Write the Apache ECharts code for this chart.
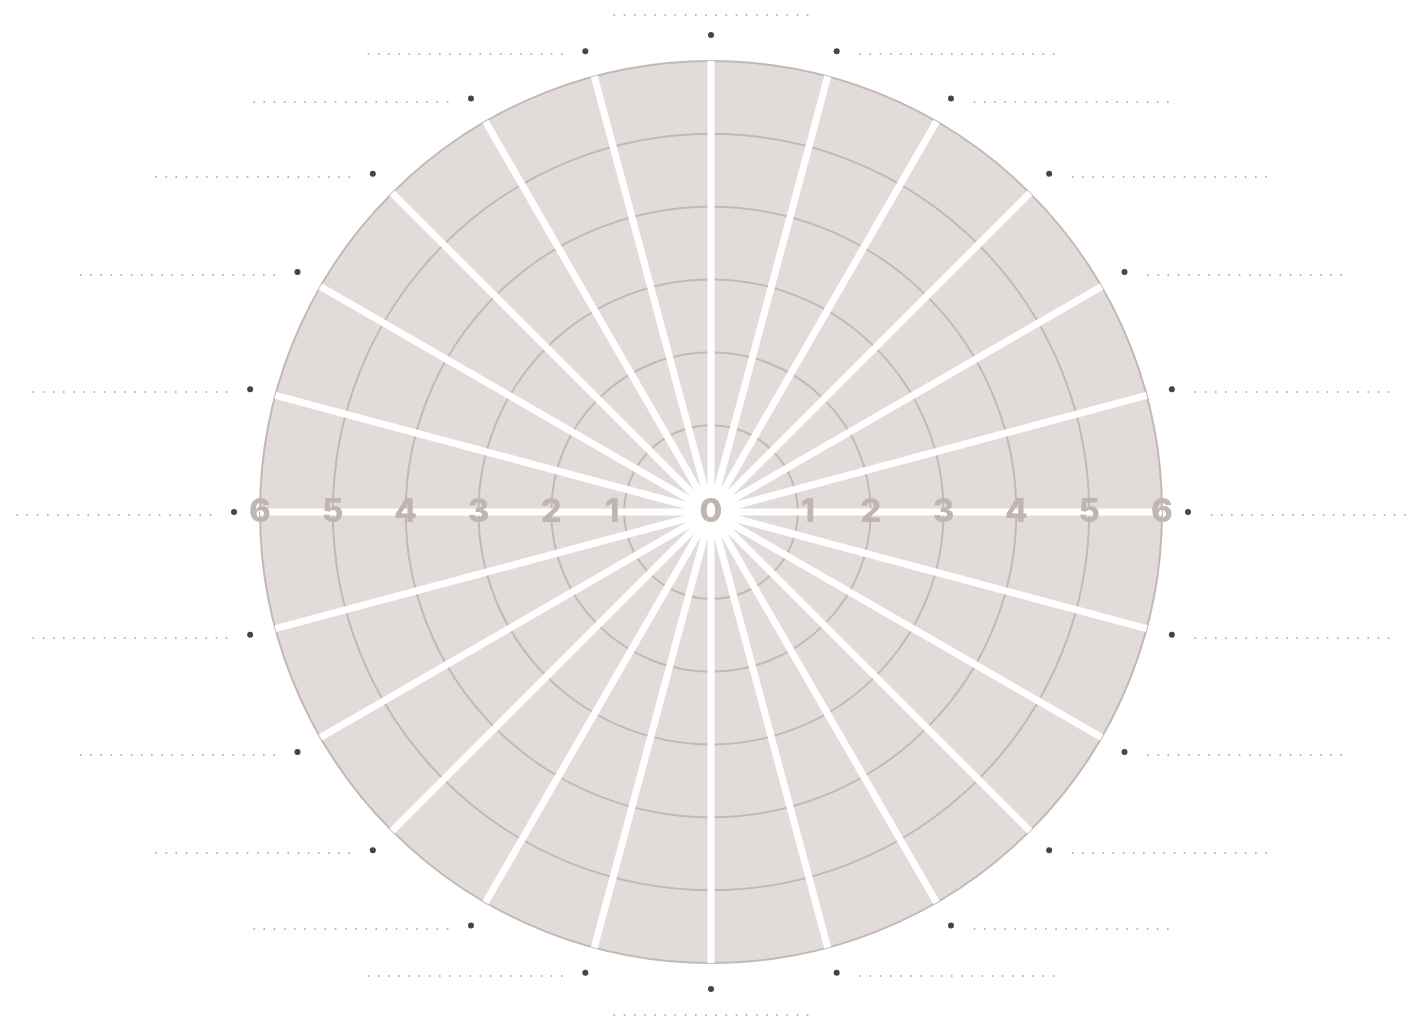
<!DOCTYPE html>
<html><head><meta charset="utf-8">
<script src="https://cdn.jsdelivr.net/npm/echarts@6/dist/echarts.min.js"></script>
<style>html,body{margin:0;padding:0;background:#fff}#chart{width:1409px;height:1020px}</style>
</head><body><div id="chart"></div>
<script>
// ---- data ----
const DOTS = '. . . . . . . . . . . . . . . . . . . .';
const angleCategories = [DOTS, DOTS, DOTS, DOTS, DOTS, DOTS, DOTS, DOTS, DOTS, DOTS, DOTS, DOTS,
                         DOTS, DOTS, DOTS, DOTS, DOTS, DOTS, DOTS, DOTS, DOTS, DOTS, DOTS, DOTS];
const radiusTickLabels = ['0', '1', '2', '3', '4', '5', '6'];
const radiusMin = 0;
const radiusMax = 6;
const radiusStep = 1;

// ---- styles ----
const FILL = '#e1dcda';
const RING = '#c3b8b6';
const LABEL = '#c0b5b3';
const DOT = '#454545';
const DOTTED = '#c2b9b7';
const CENTER = [711, 512];
const RADIUS = [14, 451];
const OUTER = 451;

const n = angleCategories.length;
function angleLabel(value, index) {
  const half = n / 2;
  if (index === 0) return '{lv|' + value + '}\n{d| }';
  if (index === half) return '{d| }\n{lv|' + value + '}';
  const ang = index * 2 * Math.PI / n;
  const centered = Math.abs(Math.sin(ang)) * (OUTER + 23) / OUTER < 0.3;
  if (index < half) {
    return centered ? '{lt|' + value + '}{g| }{dt| }{d| }{g| }{l|' + value + '}'
                    : '{d| }{g| }{l|' + value + '}';
  } else {
    return centered ? '{l|' + value + '}{g| }{d| }{dt| }{g| }{lt|' + value + '}'
                    : '{l|' + value + '}{g| }{d| }';
  }
}
const dotStyle = {width: 6, height: 6, lineHeight: 6, borderRadius: 3, backgroundColor: DOT, fontSize: 6};
const richDots = {
  d: dotStyle,
  dt: Object.assign({}, dotStyle, {backgroundColor: 'transparent'}),
  g: {width: 18, lineHeight: 6, fontSize: 6},
  l: {color: DOTTED, fontSize: 16, fontFamily: 'DejaVu Sans', lineHeight: 6},
  lt: {color: 'transparent', fontSize: 16, fontFamily: 'DejaVu Sans', lineHeight: 6},
  lv: {color: DOTTED, fontSize: 16, fontFamily: 'DejaVu Sans', lineHeight: 40}
};
const numStyle = {color: LABEL, fontSize: 33, fontWeight: 800, fontFamily: 'Inter'};
const richNums = {
  n: numStyle,
  zr: Object.assign({}, numStyle, {padding: [0, 28, 0, 0]}),
  or: Object.assign({}, numStyle, {padding: [0, 0, 0, 20]}),
  ol: Object.assign({}, numStyle, {padding: [0, 24, 0, 0]})
};

function hiddenAngle(polarIndex, startAngle) {
  return {polarIndex: polarIndex, type: 'value', min: 0, max: 360, startAngle: startAngle, show: false};
}
function radiusLabelAxis(polarIndex, side) {
  return {
    polarIndex: polarIndex, type: 'value', min: radiusMin, max: radiusMax, interval: radiusStep, z: 5,
    axisLine: {show: false}, axisTick: {show: false}, splitLine: {show: false}, splitArea: {show: false},
    axisLabel: {
      show: true, margin: 0, align: 'center', verticalAlign: 'middle', rich: richNums,
      formatter: function (v) {
        const t = radiusTickLabels[Math.round((v - radiusMin) / radiusStep)];
        if (v === radiusMin) return side === 'right' ? '{zr|' + t + '}' : '';
        if (v === radiusMin + radiusStep) return side === 'right' ? '{or|' + t + '}' : '{ol|' + t + '}';
        return '{n|' + t + '}';
      }
    }
  };
}

const chart = echarts.init(document.getElementById('chart'), null, {renderer: 'canvas'});
chart.setOption({
  backgroundColor: '#ffffff',
  animation: false,
  polar: [
    {center: CENTER, radius: [0, OUTER]},
    {center: CENTER, radius: RADIUS},
    {center: CENTER, radius: RADIUS},
    {center: CENTER, radius: RADIUS},
    {center: CENTER, radius: RADIUS}
  ],
  angleAxis: [
    {
      polarIndex: 0, type: 'category', data: angleCategories, boundaryGap: false,
      startAngle: 90, clockwise: true, z: 3,
      axisLine: {show: false}, axisTick: {show: false},
      splitLine: {show: true, lineStyle: {color: '#ffffff', width: 7}},
      axisLabel: {show: true, interval: 0, margin: 23, fontSize: 6, lineHeight: 6, rich: richDots, formatter: angleLabel}
    },
    hiddenAngle(1, 90),
    hiddenAngle(2, 90),
    hiddenAngle(3, 0),
    hiddenAngle(4, 180)
  ],
  radiusAxis: [
    {polarIndex: 0, type: 'value', min: radiusMin, max: radiusMax, show: false},
    {
      polarIndex: 1, type: 'value', min: radiusMin, max: radiusMax, interval: radiusStep, z: 1,
      axisLine: {show: false}, axisTick: {show: false}, axisLabel: {show: false},
      splitLine: {show: false},
      splitArea: {show: true, areaStyle: {color: [FILL]}}
    },
    {
      polarIndex: 2, type: 'value', min: radiusMin, max: radiusMax, interval: radiusStep, z: 2,
      axisLine: {show: false}, axisTick: {show: false}, axisLabel: {show: false},
      splitArea: {show: false},
      splitLine: {show: true, lineStyle: {color: ['rgba(0,0,0,0)', RING, RING, RING, RING, RING, RING], width: 2}}
    },
    radiusLabelAxis(3, 'right'),
    radiusLabelAxis(4, 'left')
  ],
  series: []
});
</script></body></html>
